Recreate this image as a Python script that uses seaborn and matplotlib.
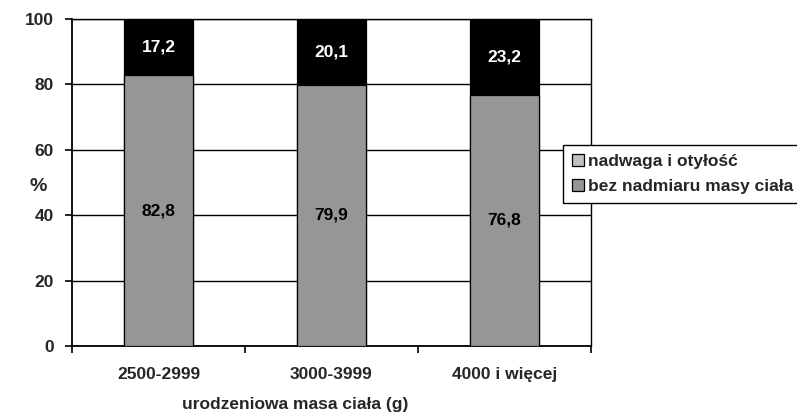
import matplotlib
matplotlib.use("Agg")
import matplotlib.pyplot as plt
from matplotlib.patches import Patch
import seaborn as sns
import pandas as pd

# Birth-weight groups and shares (%) of children in each group
categories = ["2500-2999", "3000-3999", "4000 i więcej"]
bez_nadmiaru = [82.8, 79.9, 76.8]
nadwaga = [17.2, 20.1, 23.2]
series_names = ["nadwaga i otyłość", "bez nadmiaru masy ciała"]

FS = 12.5

sns.set_theme(style="white")
plt.rcParams["font.family"] = ["Liberation Sans", "DejaVu Sans"]
plt.rcParams["font.weight"] = "bold"
plt.rcParams["font.size"] = FS

df = pd.DataFrame({
    "grupa": categories,
    "dolna": bez_nadmiaru,
    "gorna": nadwaga,
})
df["suma"] = df["dolna"] + df["gorna"]

fig = plt.figure(figsize=(7.97, 4.15), dpi=100)
ax = fig.add_axes([0.0903, 0.1663, 0.6512, 0.7880])

GRAY = "#969696"
LIGHT = "#c0c0c0"

# Stacked bars: full height in black, lower segment in gray on top of it
sns.barplot(data=df, x="grupa", y="suma", color="black", width=0.4,
            edgecolor="black", linewidth=0.9, saturation=1, ax=ax, zorder=3)
sns.barplot(data=df, x="grupa", y="dolna", color=GRAY, width=0.4,
            edgecolor="black", linewidth=0.9, saturation=1, ax=ax, zorder=4)


def fmt(v):
    return f"{v:.1f}".replace(".", ",")


for i, (lo, hi) in enumerate(zip(bez_nadmiaru, nadwaga)):
    ax.text(i, lo / 2, fmt(lo), ha="center", va="center",
            color="black", fontweight="bold", fontsize=FS, zorder=5)
    ax.text(i, lo + hi / 2, fmt(hi), ha="center", va="center",
            color="white", fontweight="bold", fontsize=FS, zorder=5)

ax.set_xlim(-0.5, 2.5)
ax.set_ylim(0, 100)
ax.set_yticks([0, 20, 40, 60, 80, 100])
ax.yaxis.grid(True, color="black", linewidth=1.0)
ax.set_axisbelow(True)

# Category labels in the middle, tick marks on the category boundaries
ax.set_xticks([0, 1, 2])
ax.set_xticklabels(categories, fontweight="bold", fontsize=FS)
ax.set_xticks([-0.5, 0.5, 1.5, 2.5], minor=True)
ax.tick_params(axis="x", which="major", length=0, pad=15)
ax.tick_params(axis="x", which="minor", length=5, width=1.2,
               color="black", direction="out", bottom=True)
ax.tick_params(axis="y", length=5, width=1.2, color="black",
               direction="out", left=True, pad=8)
for lab in ax.get_yticklabels():
    lab.set_fontweight("bold")
    lab.set_fontsize(FS)

for side in ["left", "bottom", "right", "top"]:
    ax.spines[side].set_visible(True)
    ax.spines[side].set_color("black")
ax.spines["left"].set_linewidth(1.3)
ax.spines["bottom"].set_linewidth(1.3)
ax.spines["right"].set_linewidth(1.0)
ax.spines["top"].set_linewidth(1.0)

ax.set_ylabel("%", rotation=0, fontweight="bold", fontsize=14,
              va="center", ha="center")
ax.yaxis.set_label_coords((38 - 72) / 519, (346 - 186) / 328)
ax.set_xlabel("urodzeniowa masa ciała (g)", fontweight="bold", fontsize=FS,
              va="center", ha="center")
ax.xaxis.set_label_coords((295 - 72) / 519, -(405 - 346) / 328)

handles = [
    Patch(facecolor=LIGHT, edgecolor="black", linewidth=0.9),
    Patch(facecolor=GRAY, edgecolor="black", linewidth=0.9),
]
leg = fig.legend(handles, series_names, loc="upper left",
                 bbox_to_anchor=(563 / 797, 1 - 145 / 415),
                 frameon=True, fancybox=False, framealpha=1,
                 edgecolor="black", handlelength=0.7, handleheight=0.7,
                 handletextpad=0.25, borderpad=0.5, labelspacing=0.6,
                 borderaxespad=0, prop={"weight": "bold", "size": FS})
leg.get_frame().set_linewidth(1.0)

fig.savefig("out.png", dpi=100)
